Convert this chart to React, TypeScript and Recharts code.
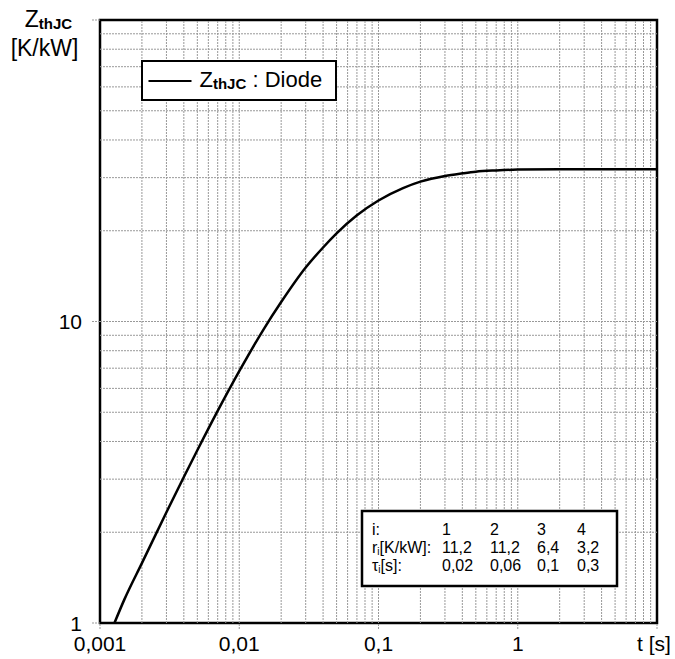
import React from 'react'
import { LineChart, Line, XAxis, YAxis, ReferenceLine, ReferenceArea, Legend } from 'recharts'

// thermal impedance curve
const tSeconds = [0.00127, 0.0015, 0.002, 0.003, 0.004, 0.005, 0.007, 0.01, 0.015, 0.02, 0.03, 0.04, 0.05, 0.07, 0.1, 0.15, 0.2, 0.3, 0.4, 0.5, 0.7, 1, 2, 5, 10]
const zthjc = [1.0, 1.2, 1.58, 2.33, 3.05, 3.74, 5.05, 6.84, 9.44, 11.6, 15.1, 17.6, 19.6, 22.5, 25.2, 27.7, 29.1, 30.4, 31.0, 31.4, 31.7, 31.9, 32.0, 32.0, 32.0]

const xTicks = [0.001, 0.01, 0.1, 1, 10]
const yTicks = [1, 10, 100]
const xDecades = [0.001, 0.01, 0.1, 1]
const yDecades = [1, 10]
const steps = [2, 3, 4, 5, 6, 7, 8, 9]

// parameter table
const tableIdx = ['1', '2', '3', '4']
const tableR = ['11,2', '11,2', '6,4', '3,2']
const tableTau = ['0,02', '0,06', '0,1', '0,3']

const data = tSeconds.map((t, i) => ({ t, z: zthjc[i] }))

const gridX = [...xDecades.flatMap((d) => steps.map((s) => +(d * s).toPrecision(3))), 0.01, 0.1, 1]
const gridY = [...yDecades.flatMap((d) => steps.map((s) => d * s)), 10]

const font = '"Liberation Sans", Arial, sans-serif'
const gridStroke = '#999'

const fmt = (v: number) => String(v).replace('.', ',')

const XTick = ({ x, y, payload }: any) => {
  const v = payload.value
  if (v === 10) {
    return (
      <text x={x - 3} y={y + 20} textAnchor="middle" fontSize={21} fontFamily={font} fill="#000">
        t [s]
      </text>
    )
  }
  return (
    <text x={x} y={y + 20} textAnchor="middle" fontSize={21} fontFamily={font} fill="#000">
      {fmt(v)}
    </text>
  )
}

const YTick = ({ x, y, payload }: any) => {
  if (payload.value === 100) return null
  return (
    <text x={x} y={y + 7.5} textAnchor="end" fontSize={21} fontFamily={font} fill="#000">
      {payload.value}
    </text>
  )
}

const LegendBox = () => (
  <div
    style={{
      width: 196,
      height: 41,
      boxSizing: 'border-box',
      border: '2.5px solid #000',
      background: '#fff',
    }}
  >
    <svg width={191} height={36} style={{ display: 'block' }}>
      <line x1={5.5} x2={48.5} y1={19} y2={19} stroke="#000" strokeWidth={2} />
      <text x={56.5} y={25} fontSize={22} fontFamily={font} fill="#000">
        Z
        <tspan fontSize={15} fontWeight="bold" dy={2}>thJC</tspan>
        <tspan dy={-2}> : Diode</tspan>
      </text>
    </svg>
  </div>
)

export default function App() {
  const cols = [442, 490, 537, 577]
  const rows = [535, 553, 571]
  return (
    <div style={{ position: 'absolute', left: 0, top: 0, width: 675, height: 659, background: '#fff', fontFamily: font }}>
      <LineChart width={675} height={659} data={data} margin={{ top: 20, right: 18, bottom: 0, left: 0 }}>
        {gridX.map((v) => (
          <ReferenceLine key={'gx' + v} x={v} stroke={gridStroke} strokeDasharray="2 1" strokeWidth={1} />
        ))}
        {gridY.map((v) => (
          <ReferenceLine key={'gy' + v} y={v} stroke={gridStroke} strokeDasharray="2 1" strokeWidth={1} />
        ))}
        <XAxis
          dataKey="t"
          type="number"
          scale="log"
          domain={[0.001, 10]}
          allowDataOverflow
          ticks={xTicks}
          interval={0}
          height={36}
          axisLine={false}
          tickSize={6}
          tickMargin={2}
          tickLine={{ stroke: gridStroke, strokeDasharray: '2 1' }}
          tick={<XTick />}
        />
        <YAxis
          type="number"
          scale="log"
          domain={[1, 100]}
          allowDataOverflow
          ticks={yTicks}
          interval={0}
          width={100}
          axisLine={false}
          tickSize={8}
          tickMargin={10}
          tickLine={{ stroke: gridStroke, strokeDasharray: '2 1' }}
          tick={<YTick />}
        />
        <Line
          dataKey="z"
          type="monotone"
          stroke="#000"
          strokeWidth={2.5}
          dot={false}
          isAnimationActive={false}
          name="ZthJC : Diode"
        />
        <ReferenceArea x1={0.001} x2={10} y1={1} y2={100} fill="none" fillOpacity={0} stroke="#000" strokeWidth={2.5} />
        <Legend
          layout="vertical"
          align="center"
          verticalAlign="middle"
          wrapperStyle={{ left: 141, top: 60, width: 196, height: 41 }}
          content={() => <LegendBox />}
        />
      </LineChart>

      <svg width={675} height={659} style={{ position: 'absolute', left: 0, top: 0, pointerEvents: 'none' }}>
        <text x={48.5} y={27} textAnchor="middle" fontSize={23} fontFamily={font} fill="#000">
          Z
          <tspan fontSize={15} fontWeight="bold" dy={2}>thJC</tspan>
        </text>
        <text x={44.5} y={56} textAnchor="middle" fontSize={23} fontFamily={font} fill="#000">
          [K/kW]
        </text>

        <rect x={362} y={511} width={255} height={75} fill="#fff" stroke="#000" strokeWidth={2.5} />
        <g fontSize={16} fontFamily={font} fill="#000">
          <text x={372} y={rows[0]}>i:</text>
          <text x={372} y={rows[1]}>
            r<tspan fontSize={10} dy={2}>i</tspan>
            <tspan dy={-2}>[K/kW]:</tspan>
          </text>
          <text x={372} y={rows[2]}>
            τ<tspan fontSize={10} dy={2}>i</tspan>
            <tspan dy={-2}>[s]:</tspan>
          </text>
          {tableIdx.map((s, i) => (
            <text key={'i' + i} x={cols[i]} y={rows[0]}>{s}</text>
          ))}
          {tableR.map((s, i) => (
            <text key={'r' + i} x={cols[i]} y={rows[1]}>{s}</text>
          ))}
          {tableTau.map((s, i) => (
            <text key={'t' + i} x={cols[i]} y={rows[2]}>{s}</text>
          ))}
        </g>
      </svg>
    </div>
  )
}
